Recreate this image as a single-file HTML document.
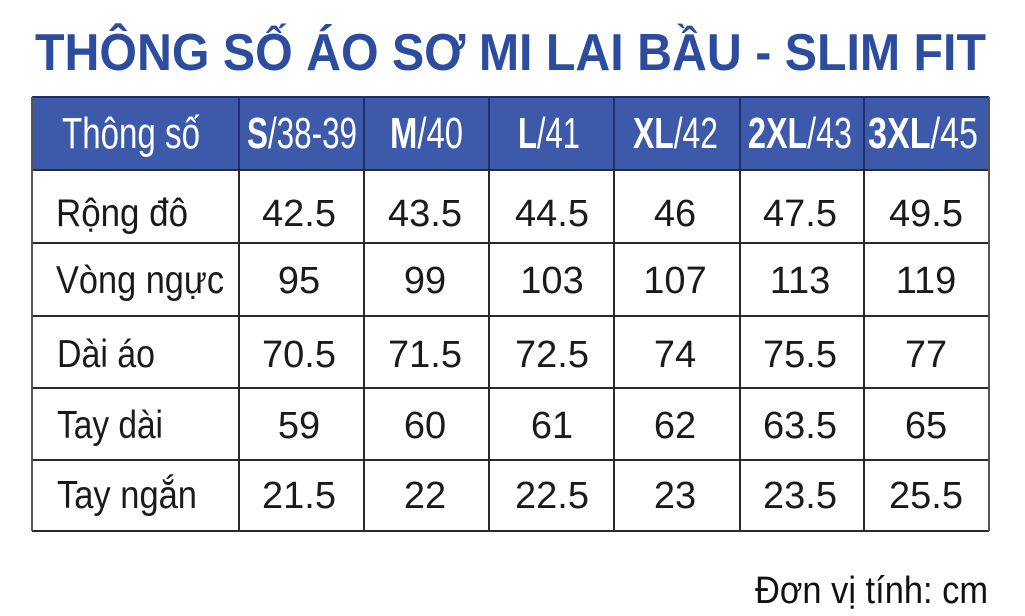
<!DOCTYPE html>
<html><head><meta charset="utf-8"><style>
html,body{margin:0;padding:0;background:#fff;width:1025px;height:616px;overflow:hidden}
svg{display:block}
text{font-family:"Liberation Sans",sans-serif}
</style></head><body>
<svg width="1025" height="616" viewBox="0 0 1025 616" xmlns="http://www.w3.org/2000/svg">
<rect width="1025" height="616" fill="#fff"/>
<text x="35" y="70" font-size="52" font-weight="bold" fill="#2c4d9f" textLength="951" lengthAdjust="spacingAndGlyphs">THÔNG SỐ ÁO SƠ MI LAI BẦU - SLIM FIT</text>
<rect x="32" y="97" width="957" height="73" fill="#3c59aa"/>
<g stroke="#1e2f6e" stroke-width="2">
<line x1="32" y1="97" x2="989" y2="97"/>
<line x1="239" y1="97" x2="239" y2="170"/><line x1="364" y1="97" x2="364" y2="170"/><line x1="489" y1="97" x2="489" y2="170"/><line x1="614" y1="97" x2="614" y2="170"/><line x1="740" y1="97" x2="740" y2="170"/><line x1="864" y1="97" x2="864" y2="170"/>
</g>
<g stroke="#2a2a2a" stroke-width="2">
<line x1="32" y1="170" x2="989" y2="170"/>
<line x1="32" y1="243" x2="989" y2="243"/>
<line x1="32" y1="316" x2="989" y2="316"/>
<line x1="32" y1="388" x2="989" y2="388"/>
<line x1="32" y1="460" x2="989" y2="460"/>
<line x1="32" y1="531" x2="989" y2="531"/>
<line x1="239" y1="170" x2="239" y2="531"/><line x1="364" y1="170" x2="364" y2="531"/><line x1="489" y1="170" x2="489" y2="531"/><line x1="614" y1="170" x2="614" y2="531"/><line x1="740" y1="170" x2="740" y2="531"/><line x1="864" y1="170" x2="864" y2="531"/>
</g>
<g stroke="#555" stroke-width="2">
<line x1="32" y1="97" x2="32" y2="531"/><line x1="989" y1="97" x2="989" y2="531"/>
</g>
<g fill="#fff" font-size="44">
<text x="62" y="148" textLength="138" lengthAdjust="spacingAndGlyphs">Thông số</text>
<text x="247" y="148" textLength="110" lengthAdjust="spacingAndGlyphs"><tspan font-weight="bold">S</tspan>/38-39</text>
<text x="390" y="148" textLength="73" lengthAdjust="spacingAndGlyphs"><tspan font-weight="bold">M</tspan>/40</text>
<text x="518" y="148" textLength="62" lengthAdjust="spacingAndGlyphs"><tspan font-weight="bold">L</tspan>/41</text>
<text x="633" y="148" textLength="85" lengthAdjust="spacingAndGlyphs"><tspan font-weight="bold">XL</tspan>/42</text>
<text x="748" y="148" textLength="104" lengthAdjust="spacingAndGlyphs"><tspan font-weight="bold">2XL</tspan>/43</text>
<text x="868" y="148" textLength="110" lengthAdjust="spacingAndGlyphs"><tspan font-weight="bold">3XL</tspan>/45</text>
</g>
<g fill="#1a1a1a" font-size="39">
<text x="56" y="226" textLength="132" lengthAdjust="spacingAndGlyphs">Rộng đô</text>
<text x="56" y="293" textLength="168" lengthAdjust="spacingAndGlyphs">Vòng ngực</text>
<text x="57" y="367" textLength="98" lengthAdjust="spacingAndGlyphs">Dài áo</text>
<text x="57" y="438" textLength="106" lengthAdjust="spacingAndGlyphs">Tay dài</text>
<text x="57" y="508" textLength="140" lengthAdjust="spacingAndGlyphs">Tay ngắn</text>
</g>
<g fill="#1a1a1a" font-size="38" text-anchor="middle">
<text x="299" y="226">42.5</text><text x="425" y="226">43.5</text><text x="552" y="226">44.5</text><text x="675" y="226">46</text><text x="800" y="226">47.5</text><text x="926" y="226">49.5</text>
<text x="299" y="293">95</text><text x="425" y="293">99</text><text x="552" y="293">103</text><text x="675" y="293">107</text><text x="800" y="293">113</text><text x="926" y="293">119</text>
<text x="299" y="367">70.5</text><text x="425" y="367">71.5</text><text x="552" y="367">72.5</text><text x="675" y="367">74</text><text x="800" y="367">75.5</text><text x="926" y="367">77</text>
<text x="299" y="438">59</text><text x="425" y="438">60</text><text x="552" y="438">61</text><text x="675" y="438">62</text><text x="800" y="438">63.5</text><text x="926" y="438">65</text>
<text x="299" y="508">21.5</text><text x="425" y="508">22</text><text x="552" y="508">22.5</text><text x="675" y="508">23</text><text x="800" y="508">23.5</text><text x="926" y="508">25.5</text>
</g>
<text x="755" y="603" font-size="38" fill="#111" textLength="233" lengthAdjust="spacingAndGlyphs">Đơn vị tính: cm</text>
</svg>
</body></html>
